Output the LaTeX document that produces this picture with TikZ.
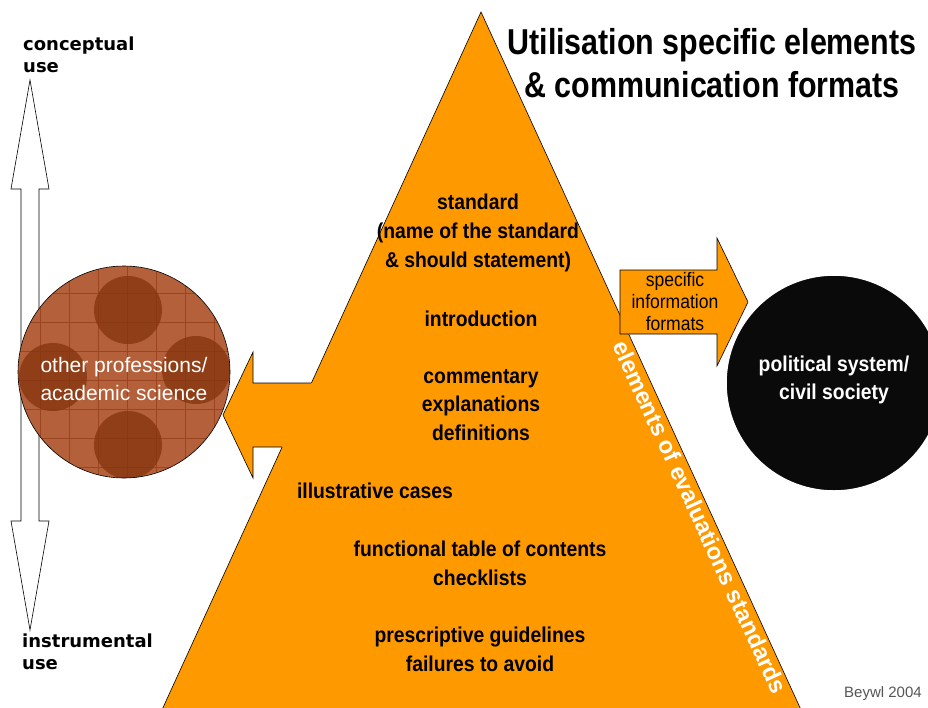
\documentclass[tikz,border=0pt]{standalone}
\usepackage{fontspec}
\setmainfont{Liberation Sans}
\newfontfamily\narrow[FakeStretch=0.9]{Liberation Sans}
\newfontfamily\narrowt[FakeStretch=0.845]{Liberation Sans}
\newfontfamily\verd{DejaVu Sans}
\definecolor{orng}{HTML}{FF9900}
\definecolor{brownc}{HTML}{B4603A}
\definecolor{brownd}{HTML}{86360F}
\definecolor{browngrid}{HTML}{9A4420}
\definecolor{blk}{HTML}{0A0A0A}
\definecolor{greytxt}{HTML}{555555}
\tikzset{
  outl/.style={line width=0.6pt, draw=black},
  bodytxt/.style={font=\narrow\bfseries\fontsize{21.5}{28.8}\selectfont, align=center, text=black, inner sep=0pt},
  sidelabel/.style={font=\verd\bfseries\fontsize{18}{22}\selectfont, align=left, inner sep=0pt, anchor=north west},
}
\begin{document}
\begin{tikzpicture}[x=1pt,y=-1pt]
\useasboundingbox (0,0) rectangle (928,707);

% vertical double arrow
\draw[outl, fill=white] (30,80) -- (49,189) -- (39,189) -- (39,521) -- (49,521) -- (30,630)
  -- (11,521) -- (21,521) -- (21,189) -- (11,189) -- cycle;
\node[sidelabel] (conc) at (23,37) {conceptual\\use};
\node[sidelabel] (instr) at (22,634) {instrumental\\use};

% pyramid
\fill[orng] (481,12) -- (802,712) -- (161,712) -- cycle;
\draw[outl] (161,712) -- (481,12) -- (802,712);

% left arrow
\fill[orng] (223,415) -- (253,352) -- (253,383) -- (320,383) -- (320,447) -- (253,447) -- (253,478) -- cycle;
\draw[outl] (311,383) -- (253,383) -- (253,352) -- (223,415) -- (253,478) -- (253,447) -- (282,447);

% brown circle
\begin{scope}
  \clip (124,372) circle (106);
  \fill[brownc] (124,372) circle (106);
  \foreach \g in {0,...,9} {
    \draw[browngrid, line width=0.5pt] (11+29*\g, 260) -- (11+29*\g, 490);
    \draw[browngrid, line width=0.5pt] (10, 264+29*\g) -- (240, 264+29*\g);
  }
  \fill[brownd, opacity=0.8] (128,310) circle (34);
  \fill[brownd, opacity=0.8] (128,445) circle (34);
  \fill[brownd, opacity=0.8] (53,377) circle (34);
  \fill[brownd, opacity=0.8] (196,370) circle (34);
\end{scope}
\draw[outl] (124,372) circle (106);
\node[font=\fontsize{21}{28}\selectfont, text=white, align=center, inner sep=0pt] (prof) at (124,379) {other professions/\\academic science};

% right arrow
\draw[outl, fill=orng] (620,270) -- (717,270) -- (717,238) -- (748,302) -- (717,366) -- (717,334) -- (620,334) -- cycle;
\node[font=\narrow\fontsize{19.5}{22}\selectfont, align=center, inner sep=0pt] (fmt) at (675,302) {specific\\information\\formats};

% black circle
\draw[fill=blk, draw=white, line width=1.5pt] (834,383) circle (108);
\node[font=\narrow\bfseries\fontsize{21.5}{28}\selectfont, text=white, align=center, inner sep=0pt] (pol) at (834,380) {political system/\\civil society};

% title
\node[font=\narrowt\bfseries\fontsize{36}{43}\selectfont, align=center, inner sep=0pt] (title) at (712,63) {Utilisation specific elements\\\& communication formats};

% pyramid texts
\node[bodytxt] (std) at (478,233) {standard\\(name of the standard\\\& should statement)};
\node[bodytxt] (intro) at (481,319) {introduction};
\node[bodytxt] (comm) at (481,405) {commentary\\explanations\\definitions};
\node[bodytxt] (ill) at (375,491) {illustrative cases};
\node[bodytxt] (func) at (480,563) {functional table of contents\\checklists};
\node[bodytxt] (pres) at (480,649) {prescriptive guidelines\\failures to avoid};

% side label
\node[font=\bfseries\fontsize{23.5}{26}\selectfont, text=white, rotate=-65.35, inner sep=0pt] (elem) at (700,517) {elements of evaluations standards};

% credit
\node[font=\fontsize{15}{17}\selectfont, text=greytxt, inner sep=0pt] (cred) at (883,694) {Beywl 2004};
\end{tikzpicture}
\end{document}
